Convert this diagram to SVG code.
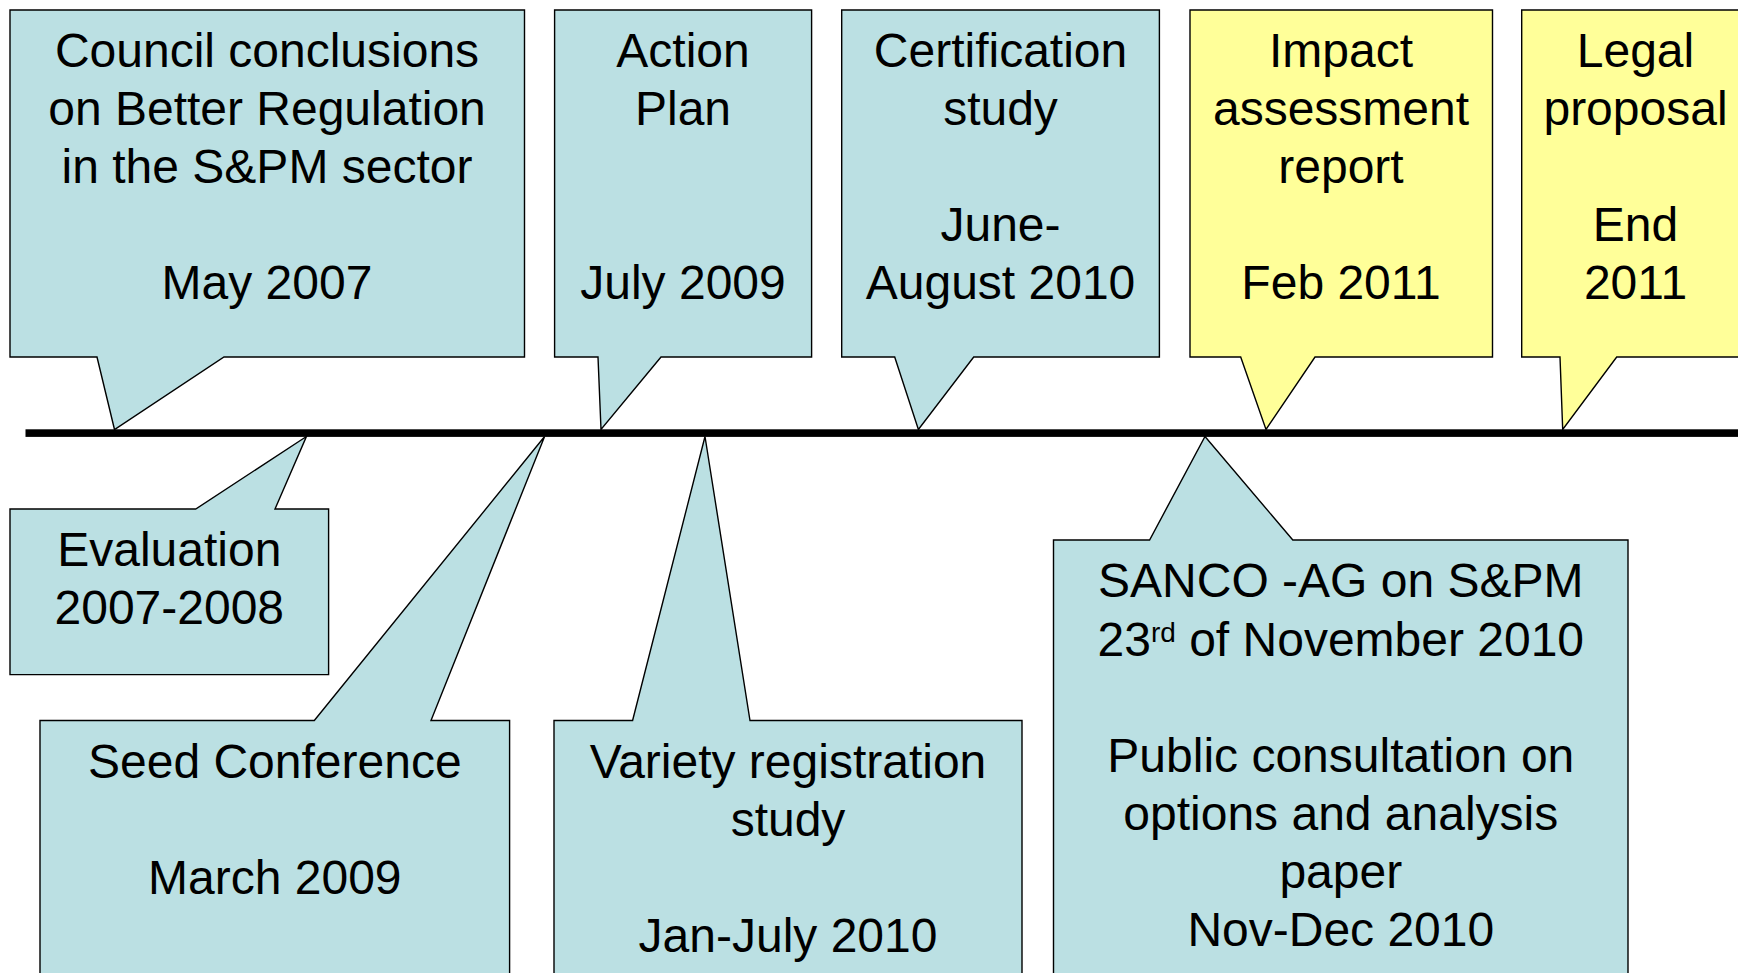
<svg xmlns="http://www.w3.org/2000/svg" width="1738" height="973" viewBox="0 0 1738 973">
<style>
.blue{fill:#BBE0E3;stroke:#000;stroke-width:1.4;stroke-linejoin:miter}
.yellow{fill:#FFFF99;stroke:#000;stroke-width:1.4;stroke-linejoin:miter}
text{font-family:"Liberation Sans",Arial,sans-serif;font-size:48px;fill:#000;text-anchor:middle}
</style>
<rect width="1738" height="973" fill="#fff"/>
<g id="council">
<path class="blue" d="M10,10 H524.5 V357 H224 L114.5,429.5 L97,357 H10 Z"/>
<text x="267"><tspan x="267" y="66.7">Council conclusions</tspan><tspan x="267" y="124.7">on Better Regulation</tspan><tspan x="267" y="182.7">in the S&amp;PM sector</tspan><tspan x="267" y="298.7">May 2007</tspan></text>
</g>
<g id="action-plan">
<path class="blue" d="M554.6,10 H811.6 V357 H661 L601,429.5 L598,357 H554.6 Z"/>
<text><tspan x="683" y="66.7">Action</tspan><tspan x="683" y="124.7">Plan</tspan><tspan x="683" y="298.7">July 2009</tspan></text>
</g>
<g id="certification">
<path class="blue" d="M841.7,10 H1159.4 V357 H973.7 L918.4,429.5 L894.7,357 H841.7 Z"/>
<text><tspan x="1000.5" y="66.7">Certification</tspan><tspan x="1000.5" y="124.7">study</tspan><tspan x="1000.5" y="240.7">June-</tspan><tspan x="1000.5" y="298.7">August 2010</tspan></text>
</g>
<g id="impact">
<path class="yellow" d="M1190,10 H1492.5 V357 H1315 L1266,429.5 L1240.7,357 H1190 Z"/>
<text><tspan x="1341" y="66.7">Impact</tspan><tspan x="1341" y="124.7">assessment</tspan><tspan x="1341" y="182.7">report</tspan><tspan x="1341" y="298.7">Feb 2011</tspan></text>
</g>
<g id="legal">
<path class="yellow" d="M1521.7,10 H1750 V357 H1616.7 L1562.7,429.5 L1560,357 H1521.7 Z"/>
<text><tspan x="1635.5" y="66.7">Legal</tspan><tspan x="1635.5" y="124.7">proposal</tspan><tspan x="1635.5" y="240.7">End</tspan><tspan x="1635.5" y="298.7">2011</tspan></text>
</g>
<g id="evaluation">
<path class="blue" d="M10,509 H195.7 L306.4,436.5 L275,509 H328.6 V674.6 H10 Z"/>
<text><tspan x="169.3" y="566.4">Evaluation</tspan><tspan x="169.3" y="624.4">2007-2008</tspan></text>
</g>
<g id="seed-conference">
<path class="blue" d="M40,720.5 H314.3 L544.6,436.5 L431,720.5 H509.6 V990 H40 Z"/>
<text><tspan x="274.8" y="778">Seed Conference</tspan><tspan x="274.8" y="894">March 2009</tspan></text>
</g>
<g id="variety">
<path class="blue" d="M554,720.5 H632.6 L705,436.5 L750,720.5 H1022 V990 H554 Z"/>
<text><tspan x="788" y="778">Variety registration</tspan><tspan x="788" y="836">study</tspan><tspan x="788" y="952">Jan-July 2010</tspan></text>
</g>
<g id="sanco">
<path class="blue" d="M1053.5,540 H1149.6 L1205,436.5 L1292.8,540 H1628 V990 H1053.5 Z"/>
<text><tspan x="1340.8" y="597">SANCO -AG on S&amp;PM</tspan></text>
<text x="1340.8" y="655.7">23<tspan font-size="28" dy="-14">rd</tspan><tspan dy="14"> of November 2010</tspan></text>
<text><tspan x="1340.8" y="772">Public consultation on</tspan><tspan x="1340.8" y="830">options and analysis</tspan><tspan x="1340.8" y="888">paper</tspan><tspan x="1340.8" y="946">Nov-Dec 2010</tspan></text>
</g>
<g id="connectors">
<rect id="timeline" x="25.5" y="429.3" width="1720" height="7.6" fill="#000"/>
</g>
</svg>
